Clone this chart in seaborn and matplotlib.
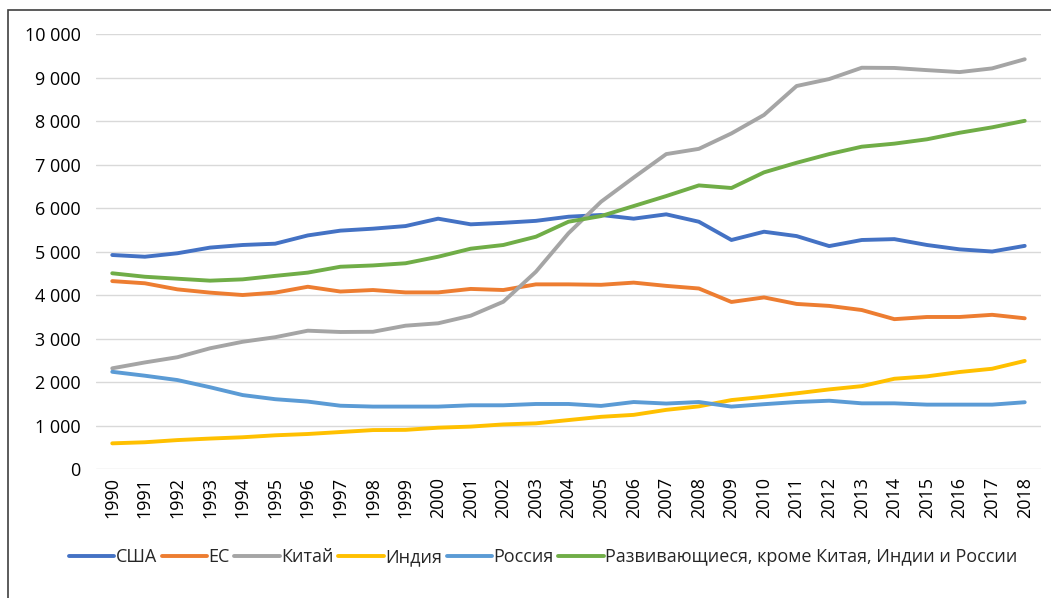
import numpy as np
import pandas as pd
import matplotlib
matplotlib.use("Agg")
import matplotlib.pyplot as plt
import seaborn as sns
from matplotlib.patches import Rectangle
from matplotlib.ticker import FuncFormatter

years = list(range(1990, 2019))

usa = [4920, 4880, 4960, 5090, 5150, 5180, 5370, 5480, 5525, 5585, 5755, 5625, 5660, 5705,
       5800, 5840, 5755, 5855, 5685, 5265, 5455, 5355, 5125, 5265, 5285, 5150, 5050, 5000, 5130]
eu = [4320, 4270, 4130, 4055, 4000, 4055, 4190, 4080, 4115, 4060, 4060, 4140, 4115, 4245,
      4245, 4235, 4285, 4210, 4150, 3840, 3945, 3795, 3750, 3655, 3445, 3495, 3495, 3545, 3465]
china = [2315, 2450, 2570, 2775, 2925, 3030, 3180, 3150, 3155, 3295, 3350, 3525, 3845, 4535,
         5420, 6145, 6700, 7240, 7360, 7715, 8140, 8805, 8965, 9225, 9220, 9170, 9125, 9210, 9420]
india = [590, 615, 665, 700, 730, 775, 805, 850, 895, 900, 950, 975, 1025, 1050,
         1125, 1200, 1245, 1360, 1440, 1585, 1660, 1740, 1830, 1905, 2075, 2130, 2230, 2305, 2485]
russia = [2235, 2145, 2045, 1880, 1700, 1605, 1550, 1455, 1435, 1435, 1435, 1465, 1465, 1495,
          1495, 1450, 1540, 1505, 1540, 1435, 1490, 1540, 1570, 1510, 1510, 1480, 1480, 1480, 1535]
developing = [4500, 4420, 4375, 4330, 4360, 4440, 4515, 4650, 4680, 4730, 4880, 5065, 5150, 5340,
              5685, 5815, 6045, 6275, 6520, 6460, 6820, 7040, 7240, 7410, 7480, 7580, 7730, 7855, 8005]

series_names = ["США", "ЕС", "Китай", "Индия", "Россия",
                "Развивающиеся, кроме Китая, Индии и России"]
series_values = [usa, eu, china, india, russia, developing]
colors = ["#4472C4", "#ED7D31", "#A5A5A5", "#FFC000", "#5B9BD5", "#70AD47"]

rows = []
for name, vals in zip(series_names, series_values):
    for y, v in zip(years, vals):
        rows.append((y, v, name))
df = pd.DataFrame(rows, columns=["year", "value", "region"])

sns.set_theme(style="white")
plt.rcParams["font.family"] = ["Open Sans", "DejaVu Sans"]

fig = plt.figure(figsize=(10.51, 5.98), dpi=100)
ax = fig.add_axes([0.0913, 0.2157, 0.8992, 0.7274])

sns.lineplot(data=df, x="year", y="value", hue="region", hue_order=series_names,
             palette=colors, linewidth=2.8, ax=ax)

ax.set_xlim(1989.5, 2018.5)
ax.set_ylim(0, 10000)
ax.set_yticks(range(0, 10001, 1000))
ax.yaxis.set_major_formatter(FuncFormatter(lambda v, p: f"{int(v):,}".replace(",", " ")))
ax.set_xticks(years)
ax.set_xticklabels([str(y) for y in years], rotation=90)
ax.tick_params(axis="both", labelsize=13, length=0, colors="#000000")
ax.tick_params(axis="y", pad=11)
ax.tick_params(axis="x", pad=6)
ax.grid(axis="y", color="#D9D9D9", linewidth=1)
ax.set_axisbelow(True)
for s in ax.spines.values():
    s.set_visible(False)
ax.set_xlabel("")
ax.set_ylabel("")

handles, labels = ax.get_legend_handles_labels()
ax.legend(handles, labels, loc="center", bbox_to_anchor=(0.517, 0.0685),
          bbox_transform=fig.transFigure, ncol=6, frameon=False, fontsize=13,
          handlelength=2.5, handletextpad=0.1, columnspacing=0.25)

fig.patches.append(Rectangle((8 / 1051, -0.1), 1.2, 1 - 10 / 598 + 0.1,
                             transform=fig.transFigure, fill=False,
                             edgecolor="#404040", linewidth=1.2))

fig.savefig("out.png", dpi=100)
